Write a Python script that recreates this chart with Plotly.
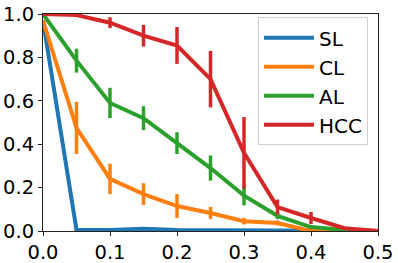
import plotly.graph_objects as go

x = [0.0, 0.05, 0.1, 0.15, 0.2, 0.25, 0.3, 0.35, 0.4, 0.45, 0.5]

sl = [0.97, 0.005, 0.005, 0.01, 0.005, 0.004, 0.004, 0.003, 0.0, 0.0, 0.0]
sl_err = [0.0, 0.004, 0.003, 0.006, 0.004, 0.003, 0.003, 0.002, 0.0, 0.0, 0.0]

cl = [0.97, 0.475, 0.24, 0.17, 0.115, 0.083, 0.045, 0.037, 0.0, 0.0, 0.0]
cl_err = [0.0, 0.12, 0.07, 0.05, 0.055, 0.028, 0.015, 0.012, 0.0, 0.0, 0.0]

al = [1.0, 0.785, 0.59, 0.52, 0.405, 0.29, 0.163, 0.07, 0.018, 0.005, 0.0]
al_err = [0.0, 0.055, 0.07, 0.055, 0.05, 0.058, 0.045, 0.015, 0.008, 0.0, 0.0]

hcc = [1.0, 0.995, 0.96, 0.9, 0.855, 0.7, 0.36, 0.11, 0.06, 0.013, 0.0]
hcc_err = [0.0, 0.006, 0.025, 0.05, 0.085, 0.13, 0.165, 0.035, 0.028, 0.006, 0.0]

names = ["SL", "CL", "AL", "HCC"]
colors = ["#1f77b4", "#ff7f0e", "#2ca02c", "#d62728"]
series = [(sl, sl_err), (cl, cl_err), (al, al_err), (hcc, hcc_err)]

fig = go.Figure()
for name, color, (y, e) in zip(names, colors, series):
    fig.add_trace(go.Scatter(
        x=x, y=y, name=name, mode="lines",
        line=dict(color=color, width=4),
        cliponaxis=False,
        error_y=dict(type="data", array=e, visible=True, color=color, thickness=3.5, width=0),
    ))

axis_common = dict(
    showgrid=False, zeroline=False, showline=True, linecolor="#222222", linewidth=1,
    mirror=True, ticks="outside", ticklen=4, tickcolor="#222222", automargin=False,
    tickfont=dict(family="DejaVu Sans", size=19.5, color="black"),
)
fig.update_xaxes(range=[0, 0.5], tickvals=[0, 0.1, 0.2, 0.3, 0.4, 0.5],
                 ticktext=["0.0", "0.1", "0.2", "0.3", "0.4", "0.5"], **axis_common)
fig.update_yaxes(range=[0, 1.0], tickvals=[0, 0.2, 0.4, 0.6, 0.8, 1.0],
                 ticktext=["0.0", "0.2", "0.4", "0.6", "0.8", "1.0"], **axis_common)

fig.update_layout(
    width=398, height=263,
    margin=dict(l=43, r=20, t=14, b=32, autoexpand=False),
    plot_bgcolor="white", paper_bgcolor="white",
    showlegend=True,
    legend=dict(
        x=0.97, y=0.985, xanchor="right", yanchor="top",
        bgcolor="rgba(255,255,255,0.8)", bordercolor="#d0d0d0", borderwidth=1,
        font=dict(family="DejaVu Sans", size=20, color="black"),
        itemwidth=50, tracegroupgap=0,
    ),
)

fig.write_html("out.html", config={"displayModeBar": False},
               post_script="document.body.style.margin='0';")
